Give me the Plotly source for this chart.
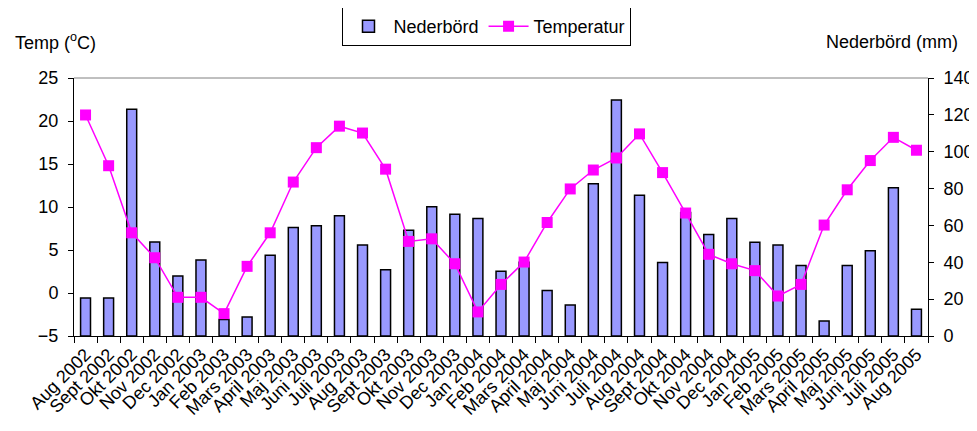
import plotly.graph_objects as go

months = ["Aug 2002", "Sept 2002", "Okt 2002", "Nov 2002", "Dec 2002", "Jan 2003",
          "Feb 2003", "Mars 2003", "April 2003", "Maj 2003", "Juni 2003", "Juli 2003",
          "Aug 2003", "Sept 2003", "Okt 2003", "Nov 2003", "Dec 2003", "Jan 2004",
          "Feb 2004", "Mars 2004", "April 2004", "Maj 2004", "Juni 2004", "Juli 2004",
          "Aug 2004", "Sept 2004", "Okt 2004", "Nov 2004", "Dec 2004", "Jan 2005",
          "Feb 2005", "Mars 2005", "April 2005", "Maj 2005", "Juni 2005", "Juli 2005",
          "Aug 2005"]

nederbord = [20.6, 20.6, 123, 51, 32.6, 41.3, 8.9, 10.3, 43.8, 58.9, 59.8, 65.2,
             49.4, 35.9, 57.4, 70.1, 66.1, 63.8, 35.1, 40, 24.7, 16.8, 82.6, 128,
             76.4, 39.9, 67, 55.1, 63.8, 50.9, 49.4, 38.2, 8.1, 38.2, 46.2, 80.4, 14.5]

temperatur = [20.7, 14.8, 7.0, 4.1, -0.5, -0.5, -2.4, 3.1, 7.0, 12.9, 16.9, 19.4,
              18.6, 14.4, 6.0, 6.3, 3.4, -2.2, 1.0, 3.6, 8.2, 12.1, 14.3, 15.7,
              18.5, 14.0, 9.3, 4.5, 3.4, 2.6, -0.35, 1.0, 7.9, 12.0, 15.4, 18.1, 16.6]

FONT = "Arial, 'Liberation Sans', sans-serif"
FS = 18

fig = go.Figure()
fig.add_trace(go.Bar(
    x=months, y=nederbord, name="Nederbörd", yaxis="y",
    marker=dict(color="#9999FF", line=dict(color="#000000", width=1.5)),
))
fig.add_trace(go.Scatter(
    x=months, y=temperatur, name="Temperatur", yaxis="y2",
    mode="lines+markers",
    line=dict(color="#FF00FF", width=1.5),
    marker=dict(symbol="square", size=11, color="#FF00FF"),
))

fig.update_layout(
    width=969, height=415,
    margin=dict(l=66, r=49, t=70, b=87, autoexpand=False),
    paper_bgcolor="white", plot_bgcolor="white",
    font=dict(family=FONT, size=FS, color="black"),
    bargap=0.57,
    showlegend=True,
    legend=dict(
        orientation="h", x=0.4836, xanchor="center", y=1.275, yanchor="top",
        bordercolor="black", borderwidth=1, bgcolor="white",
        font=dict(family=FONT, size=FS),
        traceorder="normal", itemwidth=40,
    ),
    xaxis=dict(
        type="category", tickmode="array", tickvals=months, ticktext=months,
        range=[-0.5, len(months) - 0.5],
        tickangle=-45, showline=True, linecolor="black", linewidth=1,
        ticks="outside", ticklen=6, tickcolor="black", tickson="boundaries",
        showgrid=False, zeroline=False, automargin=False,
        tickfont=dict(family=FONT, size=FS),
    ),
    yaxis=dict(
        side="right", range=[0, 140], dtick=20, tick0=0,
        showline=True, linecolor="black", linewidth=1,
        ticks="outside", ticklen=5, tickcolor="black",
        showgrid=False, zeroline=False, ticklabelstandoff=6, automargin=False,
        tickfont=dict(family=FONT, size=FS),
    ),
    yaxis2=dict(
        overlaying="y", side="left", range=[-5, 25], dtick=5, tick0=-5,
        showline=True, linecolor="black", linewidth=1,
        ticks="outside", ticklen=5, tickcolor="black",
        showgrid=False, zeroline=False, ticklabelstandoff=6, automargin=False,
        tickfont=dict(family=FONT, size=FS),
    ),
    shapes=[dict(type="line", xref="paper", yref="paper", x0=0, x1=1, y0=1, y1=1,
                 line=dict(color="#808080", width=1))],
    annotations=[
        dict(text="Temp (<sup>o</sup>C)", xref="paper", yref="paper",
             x=-0.0718, y=1.14, xanchor="left", yanchor="middle",
             showarrow=False, font=dict(family=FONT, size=FS)),
        dict(text="Nederbörd (mm)", xref="paper", yref="paper",
             x=1.0375, y=1.1395, xanchor="right", yanchor="middle",
             showarrow=False, font=dict(family=FONT, size=FS)),
    ],
)

fig.write_html("out.html")
